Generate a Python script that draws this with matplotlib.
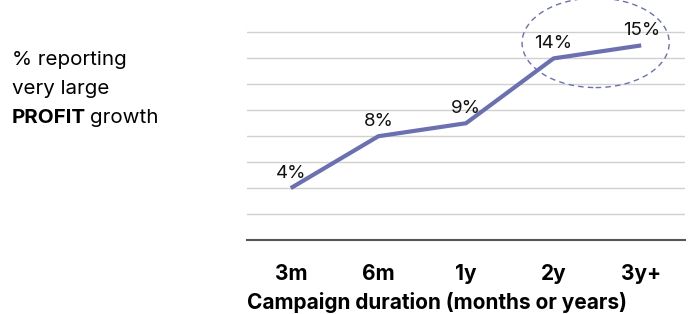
import matplotlib.pyplot as plt
from matplotlib.patches import Ellipse

durations = ['3m', '6m', '1y', '2y', '3y+']
profit_pct = [4, 8, 9, 14, 15]
grid_levels = [2, 4, 6, 8, 10, 12, 14, 16]

plt.rcParams['font.family'] = ['Inter', 'DejaVu Sans']
line_col = '#6a70b0'

fig = plt.figure(figsize=(6.91, 3.14), dpi=100)
ax = fig.add_axes([247/691, 1-240/314, 438/691, 240/314])

x = list(range(len(durations)))
for g in grid_levels:
    ax.axhline(g, color='#d0d0d0', lw=1, zorder=0)
ax.plot(x, profit_pct, color=line_col, lw=3, solid_capstyle='butt', zorder=3)
for xi, v in zip(x, profit_pct):
    ax.annotate('%d%%' % v, (xi, v), xytext=(0, 15), textcoords='offset pixels',
                ha='center', va='center', fontsize=13.5, color='#111111')

# dashed ring round the last two points
ax.add_patch(Ellipse((3.48, 15.2), 1.68, 6.9, fill=False, ls=(0, (4, 3)),
                     ec=line_col, lw=1, clip_on=False))

ax.set_xlim(-0.5, 4.5)
ax.set_ylim(0, 18.5)
ax.set_xticks(x)
ax.set_xticklabels(durations, fontsize=15, fontweight='bold')
ax.tick_params(axis='x', length=0, pad=17)
ax.set_yticks([])
for s in ['top', 'right', 'left']:
    ax.spines[s].set_visible(False)
ax.spines['bottom'].set_color('#555555')
ax.spines['bottom'].set_linewidth(1.5)
ax.set_xlabel('Campaign duration (months or years)', fontsize=15,
              fontweight='bold', loc='left', labelpad=6)

fig.text(12/691, 1-60/314, '% reporting', fontsize=14.8, va='center')
fig.text(12/691, 1-89/314, 'very large', fontsize=14.8, va='center')
t = fig.text(12/691, 1-118/314, 'PROFIT', fontsize=14.8, va='center', fontweight='bold')
fig.canvas.draw()
bb = t.get_window_extent()
fig.text((bb.x1 + 4)/691, 1-118/314, 'growth', fontsize=14.8, va='center')

fig.savefig('out.png', dpi=100)
